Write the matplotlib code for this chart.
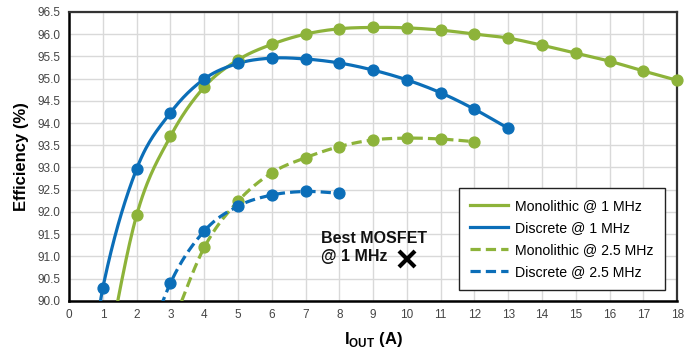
import matplotlib
matplotlib.use("Agg")
import matplotlib.pyplot as plt
import numpy as np

plt.rcParams['font.family'] = ['Liberation Sans', 'DejaVu Sans']

GREEN = '#8db33a'
BLUE = '#0b6eb8'

# measured points (I_OUT in A, efficiency in %)
mono_1m_x = [2, 3, 4, 5, 6, 7, 8, 9, 10, 11, 12, 13, 14, 15, 16, 17, 18]
mono_1m_y = [91.93, 93.70, 94.81, 95.42, 95.77, 96.00, 96.12, 96.15, 96.14, 96.09,
             96.00, 95.91, 95.75, 95.57, 95.39, 95.17, 94.96]
disc_1m_x = [1, 2, 3, 4, 5, 6, 7, 8, 9, 10, 11, 12, 13]
disc_1m_y = [90.30, 92.97, 94.23, 94.99, 95.34, 95.46, 95.44, 95.35, 95.19, 94.97,
             94.68, 94.31, 93.88]
mono_25m_x = [4, 5, 6, 7, 8, 9, 10, 11, 12]
mono_25m_y = [91.20, 92.24, 92.88, 93.22, 93.47, 93.62, 93.66, 93.64, 93.58]
disc_25m_x = [3, 4, 5, 6, 7, 8]
disc_25m_y = [90.40, 91.57, 92.13, 92.38, 92.46, 92.42]

# where each curve comes up from below the 90 % floor (no marker there)
mono_1m_lead = (1.0, 88.3)
disc_1m_lead = (0.6, 87.9)
mono_25m_lead = (3.0, 89.35)
disc_25m_lead = (2.0, 88.3)

best_x, best_y = 10, 90.93


def smooth(xs, ys, n=30):
    xs = np.asarray(xs, float)
    ys = np.asarray(ys, float)
    m = np.zeros_like(ys)
    m[1:-1] = (ys[2:] - ys[:-2]) / (xs[2:] - xs[:-2])
    m[0] = (ys[1] - ys[0]) / (xs[1] - xs[0])
    m[-1] = (ys[-1] - ys[-2]) / (xs[-1] - xs[-2])
    ox, oy = [], []
    for i in range(len(xs) - 1):
        h = xs[i + 1] - xs[i]
        t = np.linspace(0, 1, n)
        h00 = 2 * t**3 - 3 * t**2 + 1
        h10 = t**3 - 2 * t**2 + t
        h01 = -2 * t**3 + 3 * t**2
        h11 = t**3 - t**2
        ox.append(xs[i] + t * h)
        oy.append(h00 * ys[i] + h10 * h * m[i] + h01 * ys[i + 1] + h11 * h * m[i + 1])
    return np.concatenate(ox), np.concatenate(oy)


fig = plt.figure(figsize=(6.91, 3.49), dpi=100)
ax = fig.add_axes([0.1, 0.138, 0.88, 0.828])

series = [
    (mono_1m_x, mono_1m_y, mono_1m_lead, GREEN, '-', 'Monolithic @ 1 MHz'),
    (disc_1m_x, disc_1m_y, disc_1m_lead, BLUE, '-', 'Discrete @ 1 MHz'),
    (mono_25m_x, mono_25m_y, mono_25m_lead, GREEN, '--', 'Monolithic @ 2.5 MHz'),
    (disc_25m_x, disc_25m_y, disc_25m_lead, BLUE, '--', 'Discrete @ 2.5 MHz'),
]
for xs, ys, lead, col, ls, lab in series:
    sx, sy = smooth([lead[0]] + xs, [lead[1]] + ys)
    kw = dict(dashes=(3.2, 1.6)) if ls == '--' else {}
    ax.plot(sx, sy, color=col, lw=2.3, ls=ls, label=lab, zorder=3, **kw)
    ax.plot(xs, ys, 'o', color=col, ms=7.8, zorder=4, clip_on=False)

ax.plot(best_x, best_y, marker='x', color='black', ms=11, mew=3, zorder=5)
ax.text(7.45, 91.2, 'Best MOSFET\n@ 1 MHz', fontsize=11.5, fontweight='bold',
        va='center', ha='left', linespacing=1.3, color='#111111')

ax.set_xlim(0, 18)
ax.set_ylim(90, 96.5)
ax.set_xticks(np.arange(0, 19, 1))
ax.set_yticks(np.arange(90, 96.51, 0.5))
ax.set_yticklabels(['%.1f' % v for v in np.arange(90, 96.51, 0.5)])
ax.tick_params(length=0, labelsize=8.5, labelcolor='#444444', pad=6)
ax.grid(True, color='#d9d9d9', lw=1)
ax.set_axisbelow(True)
for s in ['top', 'right']:
    ax.spines[s].set_color('#333333')
    ax.spines[s].set_linewidth(1.6)
for s in ['left', 'bottom']:
    ax.spines[s].set_color('black')
    ax.spines[s].set_linewidth(1.8)

ax.set_xlabel(r'I$_{\mathregular{OUT}}$ (A)', fontsize=12, fontweight='bold', labelpad=6)
ax.set_ylabel('Efficiency (%)', fontsize=12, fontweight='bold', labelpad=6)

leg = ax.legend(loc='lower right', bbox_to_anchor=(0.98, 0.038), borderaxespad=0,
                fontsize=10.2, handlelength=2.7, handletextpad=0.5, labelspacing=0.55,
                borderpad=0.8, fancybox=False, framealpha=1, edgecolor='#222222')
leg.get_frame().set_linewidth(1.0)

# chart title sits mostly above the visible area, as in the source image
fig.text(0.535, 1.0 - 0.004, 'L = 2.2 µH, At V$_{OUT}$ = 1.0 V', ha='center', va='bottom',
         fontsize=11, color='#555555')

fig.savefig('out.png', dpi=100)
